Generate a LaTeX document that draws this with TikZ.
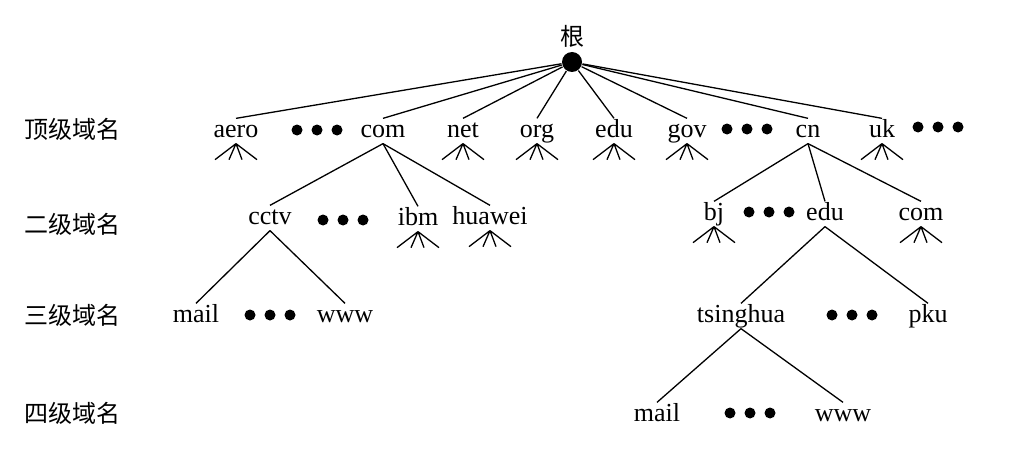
\documentclass[tikz,border=0pt]{standalone}
\usepackage{fontspec}
\setmainfont{Liberation Serif}
\newfontfamily\cjk{Noto Sans CJK SC}
\usetikzlibrary{calc}
\tikzstyle{vx}=[shape=circle, minimum size=11pt, inner sep=0, fill=black]
\tikzstyle{nm}=[anchor=base, inner sep=2pt, text height=16pt, text depth=4pt, font=\fontsize{26}{30}\selectfont]
\tikzstyle{lv}=[font=\cjk\fontsize{24}{30}\selectfont]

\begin{document}
\begin{tikzpicture}[x=1pt, y=-1pt, line width=1.3pt]
\useasboundingbox (0,0) rectangle (1032,468);
%
\draw (572,62) node[vx, minimum size=20pt, label={[lv, label distance=0pt]above:根}] (root) {};
%
\draw (72,129) node[lv] (l1) {顶级域名};
\draw (72,224) node[lv] (l2) {二级域名};
\draw (72,315) node[lv] (l3) {三级域名};
\draw (72,413) node[lv] (l4) {四级域名};
%
\draw (236,137) node[nm] (aero) {aero};
\draw (383,137) node[nm] (com) {com};
\draw (463,137) node[nm] (net) {net};
\draw (537,137) node[nm] (org) {org};
\draw (614,137) node[nm] (edu) {edu};
\draw (687,137) node[nm] (gov) {gov};
\draw (808,137) node[nm] (cn) {cn};
\draw (882,137) node[nm] (uk) {uk};
%
\draw (270,224) node[nm] (cctv) {cctv};
\draw (418,225) node[nm] (ibm) {ibm};
\draw (490,224) node[nm] (huawei) {huawei};
\draw (714,220) node[nm] (bj) {bj};
\draw (825,220) node[nm] (cnedu) {edu};
\draw (921,220) node[nm] (cncom) {com};
%
\draw (196,322) node[nm] (mail) {mail};
\draw (345,322) node[nm] (www) {www};
\draw (741,322) node[nm] (tsinghua) {tsinghua};
\draw (928,322) node[nm] (pku) {pku};
%
\draw (657,421) node[nm] (thumail) {mail};
\draw (843,421) node[nm] (thuwww) {www};
%
\foreach \nm/\x/\y in {d1/317/130, d2/747/129, d3/938/127, d4/343/220, d5/769/212, d6/270/315, d7/852/315, d8/750/413}
    {
	\draw (\x,\y) node[vx] (\nm) {} +(-20,0) node[vx] (\nm a) {} +(20,0) node[vx] (\nm b) {};}
%
\foreach \n in {aero,com,net,org,edu,gov,cn,uk}
	\draw (root)--(\n.north);
\foreach \n in {cctv,ibm,huawei}
	\draw (com.south)--(\n.north);
\foreach \n in {bj,cnedu,cncom}
	\draw (cn.south)--(\n.north);
\draw (cctv.south)--(mail.north);
\draw (cctv.south)--(www.north);
\draw (cnedu.south)--(tsinghua.north);
\draw (cnedu.south)--(pku.north);
\draw (tsinghua.south)--(thumail.north);
\draw (tsinghua.south)--(thuwww.north);
%
\foreach \n in {aero,net,org,edu,gov,uk,ibm,huawei,bj,cncom}
	\draw (\n.south)--+(-21,16) (\n.south)--+(-7,16) (\n.south)--+(6,16) (\n.south)--+(21,16);
\end{tikzpicture}
\end{document}
